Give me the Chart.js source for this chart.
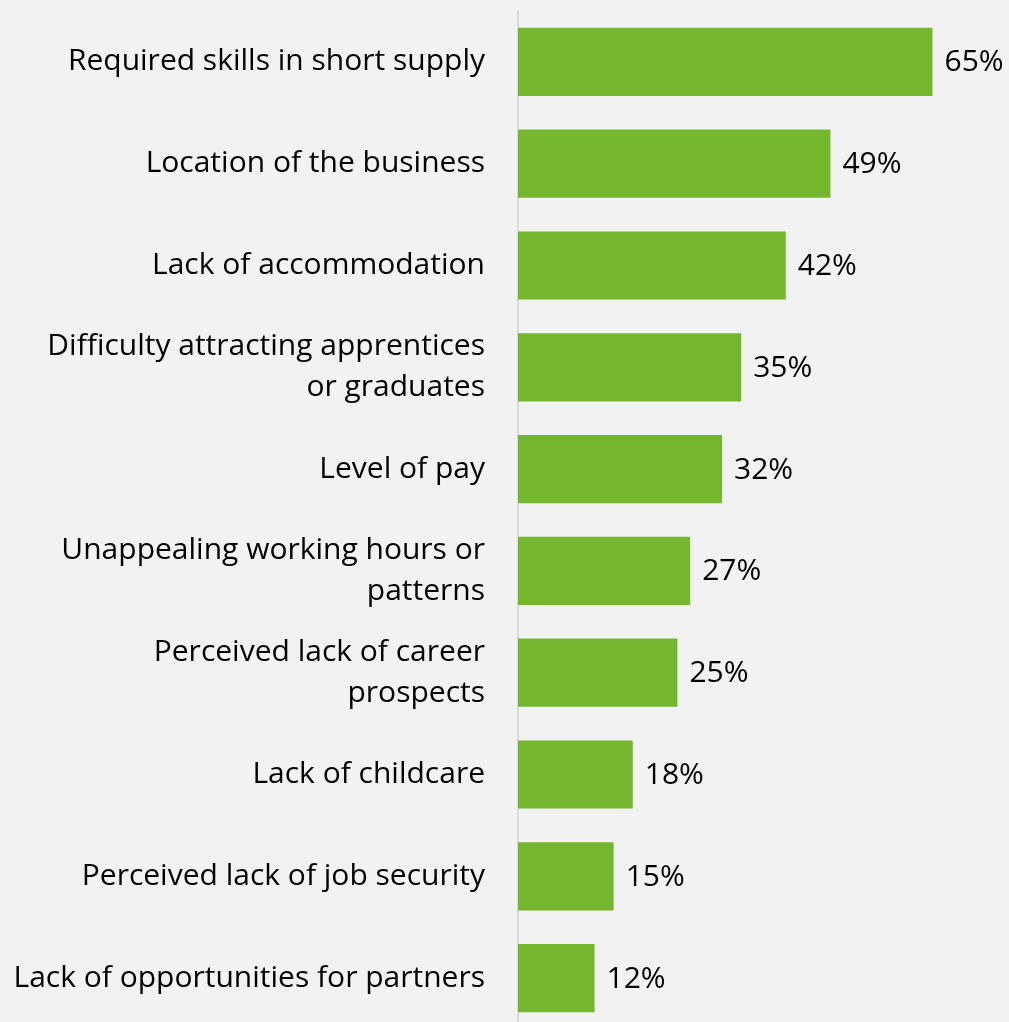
<!DOCTYPE html>
<html>
<head>
<meta charset="utf-8">
<script src="https://cdn.jsdelivr.net/npm/chart.js@4.4.1/dist/chart.umd.min.js"></script>
<style>
  html, body { margin: 0; padding: 0; background: #f2f2f2; overflow: hidden; }
  #wrap { width: 1009px; height: 1029px; }
</style>
</head>
<body>
<div id="wrap"><canvas id="barrierasCanvas"></canvas></div>
<script>
const categorias = [
  'Required skills in short supply',
  'Location of the business',
  'Lack of accommodation',
  ['Difficulty attracting apprentices', 'or graduates'],
  'Level of pay',
  ['Unappealing working hours or', 'patterns'],
  ['Perceived lack of career', 'prospects'],
  'Lack of childcare',
  'Perceived lack of job security',
  'Lack of opportunities for partners'
];
const porcentajes = [65, 49, 42, 35, 32, 27, 25, 18, 15, 12];

const fuente = "'Open Sans', 'Noto Sans', sans-serif";

// etiquetas de valor al final de cada barra
const etiquetasValor = {
  id: 'etiquetasValor',
  afterDatasetsDraw(chart) {
    const { ctx } = chart;
    const meta = chart.getDatasetMeta(0);
    ctx.save();
    ctx.font = `30px ${fuente}`;
    ctx.fillStyle = '#000';
    ctx.textAlign = 'left';
    ctx.textBaseline = 'middle';
    meta.data.forEach((bar, i) => {
      ctx.fillText(porcentajes[i] + '%', bar.x + 12, bar.y + 1);
    });
    ctx.restore();
  }
};

const ctx = document.getElementById('barrierasCanvas').getContext('2d');
new Chart(ctx, {
  type: 'bar',
  data: {
    labels: categorias,
    datasets: [{
      data: porcentajes,
      backgroundColor: '#74b72e',
      borderWidth: 0,
      categoryPercentage: 0.67,
      barPercentage: 1
    }]
  },
  options: {
    indexAxis: 'y',
    responsive: true,
    maintainAspectRatio: false,
    animation: false,
    layout: { padding: { top: 11, right: 0, bottom: 0, left: 0 } },
    plugins: { legend: { display: false }, tooltip: { enabled: false } },
    scales: {
      x: {
        min: 0,
        max: 77,
        display: false
      },
      y: {
        afterFit: s => {
          s.width = 518;
          s.paddingTop = 0;
          s.paddingBottom = 0;
        },
        grid: { display: false, drawTicks: false },
        border: { display: true, color: '#d9d9d9', width: 2 },
        ticks: {
          color: '#000',
          padding: 33,
          font: { family: fuente, size: 30, lineHeight: 1.37 },
          autoSkip: false
        }
      }
    }
  },
  plugins: [etiquetasValor]
});
</script>
</body>
</html>
